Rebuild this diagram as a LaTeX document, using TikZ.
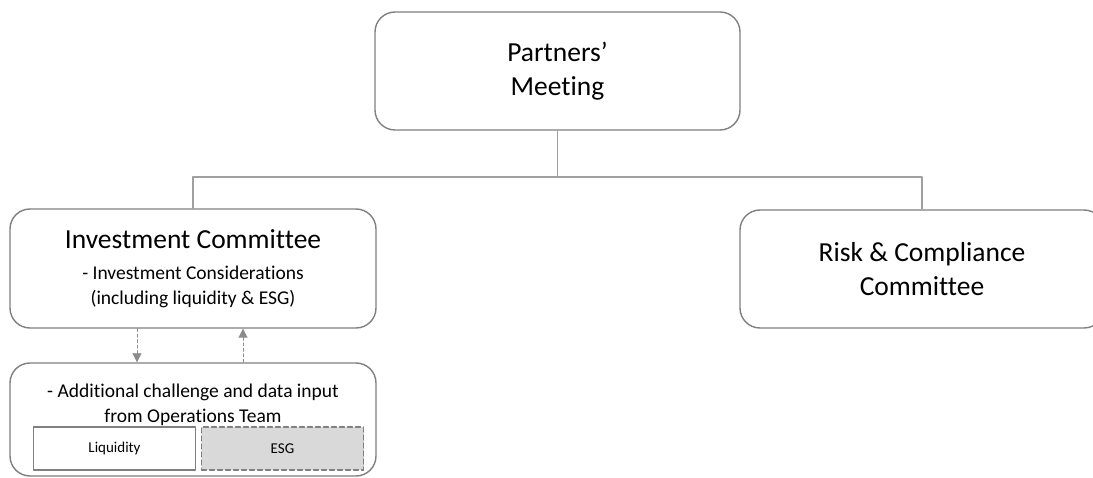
\documentclass[tikz,border=0pt]{standalone}
\usepackage{fontspec}
\setmainfont{Carlito}[Ligatures=NoCommon]
\usetikzlibrary{arrows.meta}
\newcommand{\boxhead}{\fontsize{27.5}{34}\selectfont}
\newcommand{\boxbody}{\fontsize{19.5}{24.5}\selectfont}
\newcommand{\boxtag}{\fontsize{15}{18}\selectfont}
\begin{document}
\begin{tikzpicture}[x=1pt, y=-1pt, line cap=round, line join=round,
  panel/.style={draw=boxgray, line width=1.4pt, rounded corners=20pt,
    align=center, inner sep=0pt},
  chip/.style={draw=boxgray, line width=1.2pt, inner sep=0pt,
    minimum width=162pt, minimum height=43pt, font=\boxtag},
  link/.style={draw=linkgray, line width=1.1pt},
  feed/.style={draw=arrowgray, line width=0.9pt, dash pattern=on 3pt off 2.5pt,
    -{Triangle[length=9pt, width=9pt]}}]
  \definecolor{boxgray}{RGB}{128,128,128}
  \definecolor{linkgray}{RGB}{160,160,160}
  \definecolor{arrowgray}{RGB}{140,140,140}
  \definecolor{esgfill}{RGB}{217,217,217}
  \useasboundingbox (0,0) rectangle (1093,478);
  \node[panel, minimum width=365pt, minimum height=118pt, font=\boxhead] (pm)
    at (557.5,71) {Partners’\\Meeting};
  \node[panel, minimum width=366pt, minimum height=119pt, font=\boxbody] (ic)
    at (193,268.5) {{\boxhead Investment Committee}\\[6pt]
    - Investment Considerations\\[0.5pt] (including liquidity \& ESG)};
  \node[panel, minimum width=364pt, minimum height=118pt, font=\boxhead] (rc)
    at (922,269) {Risk \& Compliance\\Committee};
  \node[panel, minimum width=366pt, minimum height=113pt] (ops) at (193,419.5) {};
  \node[font=\boxbody, align=center, inner sep=0pt, anchor=north] (opsnote)
    at (193,384) {- Additional challenge and data input\\from Operations Team};
  \node[chip] (liq) at (114.5,448.5) {Liquidity};
  \node[chip, dash pattern=on 5pt off 3pt, fill=esgfill] (esg) at (282.5,448.5) {ESG};
  \coordinate (bus) at (557.5,177);
  \draw[link] (ic.north) |- (bus) -| (rc.north);
  \draw[link] (pm.south) -- (bus);
  \draw[feed] ([xshift=-56pt]ic.south) -- ([xshift=-56pt]ops.north);
  \draw[feed] ([xshift=50pt]ops.north) -- ([xshift=50pt]ic.south);
\end{tikzpicture}
\end{document}
